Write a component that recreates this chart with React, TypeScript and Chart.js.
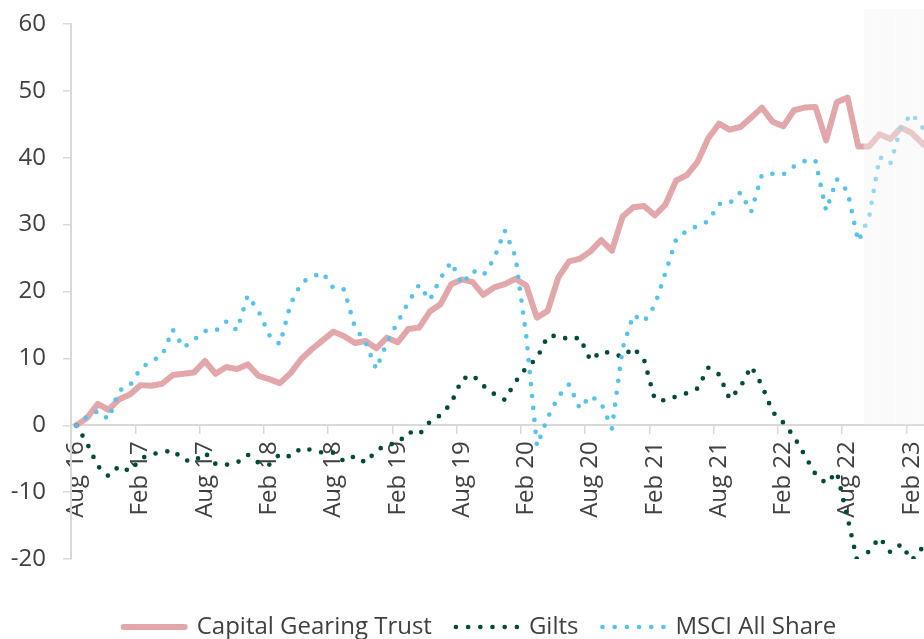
import React, { useEffect, useRef } from 'react';
import { Chart, registerables } from 'chart.js';

Chart.register(...registerables);

// Monthly categories, Aug 2016 onward
const categories = [
  'Aug 16', 'Sep 16', 'Oct 16', 'Nov 16', 'Dec 16',
  'Jan 17', 'Feb 17', 'Mar 17', 'Apr 17', 'May 17', 'Jun 17', 'Jul 17', 'Aug 17', 'Sep 17', 'Oct 17', 'Nov 17', 'Dec 17',
  'Jan 18', 'Feb 18', 'Mar 18', 'Apr 18', 'May 18', 'Jun 18', 'Jul 18', 'Aug 18', 'Sep 18', 'Oct 18', 'Nov 18', 'Dec 18',
  'Jan 19', 'Feb 19', 'Mar 19', 'Apr 19', 'May 19', 'Jun 19', 'Jul 19', 'Aug 19', 'Sep 19', 'Oct 19', 'Nov 19', 'Dec 19',
  'Jan 20', 'Feb 20', 'Mar 20', 'Apr 20', 'May 20', 'Jun 20', 'Jul 20', 'Aug 20', 'Sep 20', 'Oct 20', 'Nov 20', 'Dec 20',
  'Jan 21', 'Feb 21', 'Mar 21', 'Apr 21', 'May 21', 'Jun 21', 'Jul 21', 'Aug 21', 'Sep 21', 'Oct 21', 'Nov 21', 'Dec 21',
  'Jan 22', 'Feb 22', 'Mar 22', 'Apr 22', 'May 22', 'Jun 22', 'Jul 22', 'Aug 22', 'Sep 22', 'Oct 22', 'Nov 22', 'Dec 22',
  'Jan 23', 'Feb 23', 'Mar 23', 'Apr 23', 'May 23', 'Jun 23',
];

const capitalGearingTrust = [
  0, 1.1, 3.2, 2.3, 3.9, 4.6, 6.0, 5.9, 6.2, 7.5, 7.7, 7.9, 9.6, 7.7, 8.7, 8.4, 9.1, 7.4, 6.9, 6.3,
  7.8, 9.9, 11.4, 12.7, 14.0, 13.3, 12.3, 12.6, 11.5, 13.1, 12.4, 14.4, 14.6, 17.0, 18.1, 21.1, 21.8, 21.4, 19.5, 20.6,
  21.1, 21.9, 20.9, 16.1, 17.1, 22.1, 24.5, 24.9, 26.0, 27.7, 26.1, 31.2, 32.6, 32.8, 31.4, 33.0, 36.6, 37.4, 39.4, 42.9,
  45.1, 44.2, 44.6, 46.0, 47.5, 45.4, 44.7, 47.1, 47.5, 47.6, 42.6, 48.3, 49.0, 41.7, 41.7, 43.5, 42.8, 44.5, 43.7, 42.1,
  41.0,
];

const gilts = [
  0, -2.7, -6.1, -7.6, -6.1, -6.9, -5.0, -4.3, -4.1, -3.7, -5.2, -5.4, -4.1, -5.8, -5.9, -5.6, -4.4, -5.6, -5.9, -4.3,
  -4.7, -3.4, -3.7, -4.1, -4.1, -5.4, -4.6, -5.6, -3.8, -2.9, -2.7, -1.0, -1.4, 0.5, 1.5, 3.3, 6.9, 7.5, 5.9, 4.7,
  3.8, 6.5, 8.6, 10.0, 13.3, 13.4, 12.8, 13.1, 9.7, 11.0, 10.8, 10.2, 11.6, 9.8, 3.9, 3.7, 4.3, 4.8, 5.5, 8.6,
  7.6, 3.9, 5.7, 8.8, 6.0, 2.0, 0.4, -1.7, -4.5, -7.3, -8.7, -7.0, -13.8, -21.0, -18.8, -16.8, -19.0, -17.8, -20.2, -18.3,
  -18.0,
];

const msciAllShare = [
  0, 1.3, 2.1, 0.9, 5.2, 5.9, 8.5, 9.6, 10.4, 14.3, 11.6, 12.8, 14.1, 14.1, 15.5, 14.2, 19.4, 17.1, 13.5, 12.1,
  18.1, 21.3, 22.2, 22.8, 20.5, 20.3, 14.7, 12.4, 8.4, 12.4, 15.4, 18.4, 21.0, 18.7, 22.0, 24.4, 21.1, 23.1, 22.4, 24.9,
  29.1, 25.2, 13.4, -3.1, 1.1, 4.3, 6.1, 2.5, 4.4, 3.3, -0.5, 11.5, 16.5, 15.5, 17.9, 22.8, 27.8, 29.1, 29.8, 30.5,
  33.1, 33.2, 34.8, 31.9, 37.4, 37.6, 37.5, 38.7, 39.5, 39.6, 32.1, 36.8, 35.0, 27.5, 31.0, 40.1, 39.1, 44.6, 46.6, 44.5,
  43.0,
];

// Shaded (latest) period
const shadeStartLabel = 'Oct 22';
const shadeTopValue = 62.25;

const yMin = -20;
const yMax = 60;
const yStep = 10;

const PINK = '#e2a7aa';
const GREEN = '#004a3c';
const BLUE = '#58c3e8';
const AXIS = '#d9d9d9';
const TEXT = '#404040';
const FONT = "'Open Sans', sans-serif";

export default function App() {
  const ref = useRef<HTMLCanvasElement>(null);

  useEffect(() => {
    if (!ref.current) return;
    Chart.defaults.font.family = FONT;
    const shadeStart = categories.indexOf(shadeStartLabel);
    const shade = categories.map((_, i) => (i >= shadeStart ? shadeTopValue : null));

    const chart = new Chart(ref.current, {
      type: 'line',
      data: {
        labels: categories,
        datasets: [
          {
            label: 'Capital Gearing Trust',
            data: capitalGearingTrust,
            borderColor: PINK,
            backgroundColor: PINK,
            borderWidth: 6,
            borderCapStyle: 'round',
            borderJoinStyle: 'round',
            pointRadius: 0,
            tension: 0,
            order: 3,
          },
          {
            label: 'Gilts',
            data: gilts,
            borderColor: GREEN,
            backgroundColor: GREEN,
            borderWidth: 4.7,
            borderDash: [0, 12],
            borderCapStyle: 'round',
            borderJoinStyle: 'round',
            pointRadius: 0,
            tension: 0,
            order: 2,
          },
          {
            label: 'MSCI All Share',
            data: msciAllShare,
            borderColor: BLUE,
            backgroundColor: BLUE,
            borderWidth: 4.7,
            borderDash: [0, 12],
            borderCapStyle: 'round',
            borderJoinStyle: 'round',
            pointRadius: 0,
            tension: 0,
            order: 1,
          },
          {
            type: 'bar',
            label: 'shade',
            data: shade,
            backgroundColor: 'rgba(243,243,243,0.43)',
            borderWidth: 0,
            barPercentage: 1,
            categoryPercentage: 1,
            inflateAmount: 0,
            clip: false,
            order: 0,
          } as any,
        ],
      },
      options: {
        responsive: false,
        animation: false,
        devicePixelRatio: 1,
        events: [],
        layout: { padding: { left: 0, top: 24, right: 0, bottom: 0 } },
        scales: {
          x: {
            type: 'category',
            position: { y: 0 } as any,
            offset: true,
            grid: {
              display: true,
              offset: true,
              drawOnChartArea: false,
              drawTicks: true,
              tickLength: 8,
              lineWidth: 1.5,
              tickColor: (c: any) =>
                c.index !== undefined && c.index % 6 === 0 ? AXIS : 'rgba(0,0,0,0)',
            },
            border: { display: true, color: AXIS, width: 2 },
            ticks: {
              autoSkip: false,
              maxRotation: 90,
              minRotation: 90,
              padding: 8,
              color: TEXT,
              font: { family: FONT, size: 24 },
              callback: (_v: any, i: number) => (i % 6 === 0 ? categories[i] : ''),
            },
            afterFit: (s: any) => {
              s.paddingLeft = 0;
              s.paddingRight = 0;
            },
          },
          y: {
            position: 'left',
            min: yMin,
            max: yMax,
            ticks: {
              stepSize: yStep,
              padding: 17,
              color: TEXT,
              font: { family: FONT, size: 24 },
            },
            grid: {
              drawOnChartArea: false,
              drawTicks: true,
              tickLength: 8,
              lineWidth: 1.5,
              tickColor: AXIS,
            },
            border: { display: true, color: AXIS, width: 2 },
            afterFit: (s: any) => {
              s.width = 71;
              s.paddingTop = 0;
              s.paddingBottom = 0;
            },
          },
        },
        plugins: {
          tooltip: { enabled: false },
          legend: {
            position: 'bottom',
            title: { display: true, text: '', padding: { top: 20, bottom: 0 }, font: { size: 10 } },
            labels: {
              usePointStyle: true,
              pointStyleWidth: 61,
              boxHeight: 24,
              padding: 24,
              color: TEXT,
              font: { family: FONT, size: 24 },
              generateLabels: (ch: any) =>
                ch.data.datasets.slice(0, 3).map((ds: any, i: number) => ({
                  text: ds.label,
                  fillStyle: ds.borderColor,
                  strokeStyle: ds.borderColor,
                  lineWidth: ds.borderWidth,
                  lineDash: ds.borderDash ? [0, 12.19] : [],
                  lineCap: 'round',
                  pointStyle: 'line',
                  hidden: false,
                  datasetIndex: i,
                  fontColor: TEXT,
                })),
            },
          },
        },
      },
    });
    return () => chart.destroy();
  }, []);

  return (
    <div
      style={{
        position: 'absolute',
        left: 0,
        top: 0,
        width: 924,
        height: 639,
        overflow: 'hidden',
        background: '#ffffff',
      }}
    >
      <canvas ref={ref} width={960} height={649} style={{ display: 'block' }} />
    </div>
  );
}
